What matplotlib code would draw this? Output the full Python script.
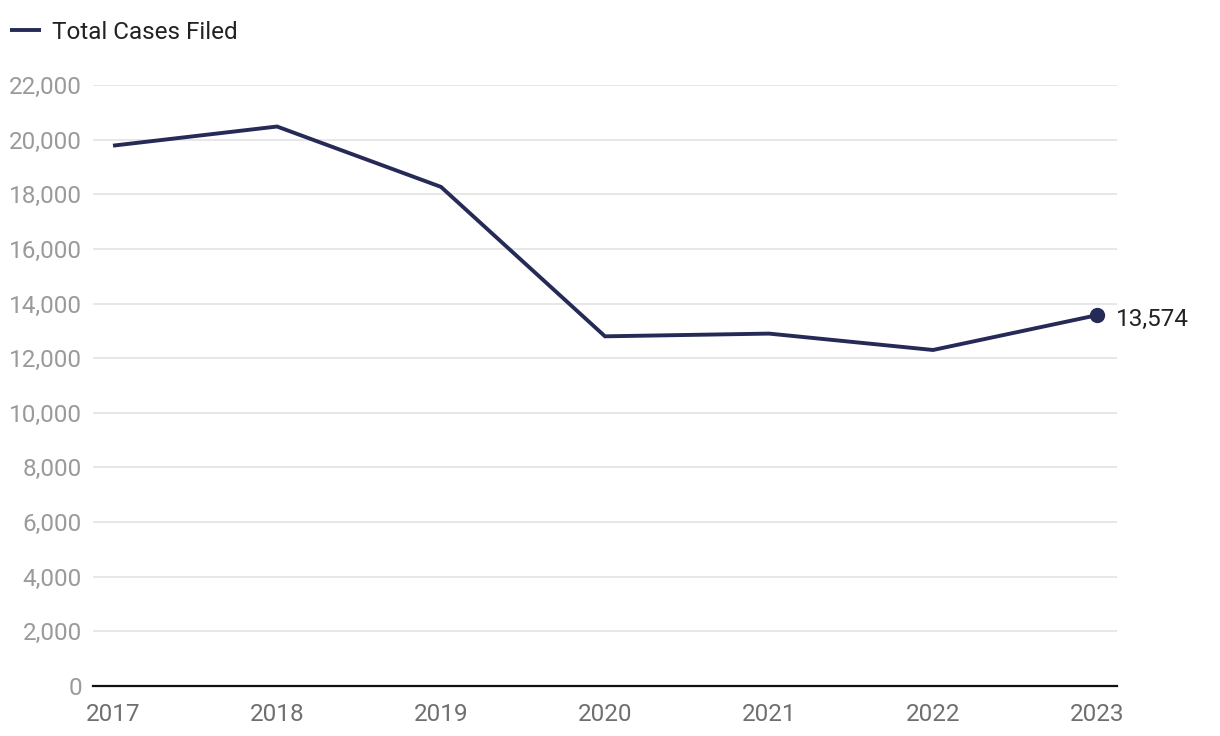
import matplotlib.pyplot as plt
from matplotlib.ticker import FuncFormatter

plt.rcParams['font.family'] = ['Roboto', 'DejaVu Sans']

# data
years = [2017, 2018, 2019, 2020, 2021, 2022, 2023]
cases = [19780, 20480, 18270, 12800, 12900, 12300, 13574]

line_color = "#262a56"

fig = plt.figure(figsize=(12.2, 7.36), dpi=100)
ax = fig.add_axes([93 / 1220, 50 / 736, 1024 / 1220, 601 / 736])

ax.plot(years, cases, color=line_color, linewidth=2.8, label="Total Cases Filed",
        solid_capstyle="butt", solid_joinstyle="miter")
ax.plot(years[-1], cases[-1], "o", color=line_color, markersize=10)
ax.annotate(f"{cases[-1]:,}", (years[-1], cases[-1]), xytext=(14, -3),
            textcoords="offset points", va="center", ha="left",
            fontsize=17.5, color="#222222")

ax.set_xlim(years[0] - 0.122, years[-1] + 0.122)
ax.set_ylim(0, 22000)
ax.set_yticks(range(0, 22001, 2000))
ax.yaxis.set_major_formatter(FuncFormatter(lambda v, p: f"{int(v):,}"))
ax.set_xticks(years)

ax.grid(axis="y", color="#e3e3e3", linewidth=1.2)
ax.set_axisbelow(True)
for s in ["top", "right", "left"]:
    ax.spines[s].set_visible(False)
ax.spines["bottom"].set_color("#111111")
ax.spines["bottom"].set_linewidth(1.6)

ax.tick_params(axis="y", length=0, pad=8, labelsize=17.5, labelcolor="#9a9a9a")
ax.tick_params(axis="x", length=0, pad=12, labelsize=17.5, labelcolor="#6f6f6f")

leg = fig.legend(loc="upper left", bbox_to_anchor=(-0.005, 0.993), frameon=False,
                 fontsize=17.5, handlelength=1.3, handletextpad=0.45,
                 borderaxespad=0.3, borderpad=0.35)
for t in leg.get_texts():
    t.set_color("#222222")

fig.savefig("out.png", dpi=100)
